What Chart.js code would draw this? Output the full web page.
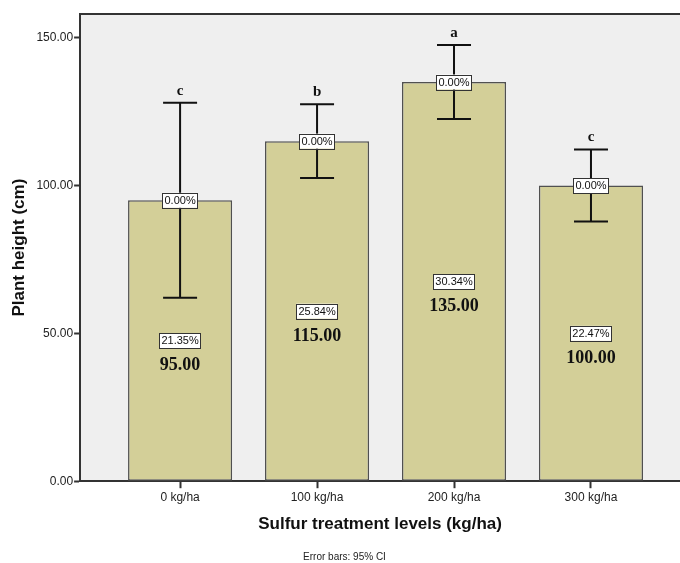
<!DOCTYPE html>
<html>
<head>
<meta charset="utf-8">
<script src="https://cdn.jsdelivr.net/npm/chart.js@4"></script>
<style>
  html, body { margin: 0; padding: 0; background: #fff; }
  #wrap { width: 680px; height: 563px; position: relative; }
</style>
</head>
<body>
<div id="wrap"><canvas id="grafica"></canvas></div>
<script>
'use strict';

// ── Datos ──────────────────────────────────
const categorias = ['0 kg/ha', '100 kg/ha', '200 kg/ha', '300 kg/ha'];
const medias = [95, 115, 135, 100];
const icInferior = [62, 102.5, 122.5, 87.8];
const icSuperior = [128, 127.5, 147.5, 112.2];
const letras = ['c', 'b', 'a', 'c'];
const porcentajes = ['21.35%', '25.84%', '30.34%', '22.47%'];
const porcentajeTope = ['0.00%', '0.00%', '0.00%', '0.00%'];
const ticksY = [0, 50, 100, 150];

const COLOR_BARRA = '#D3CF98';
const COLOR_FONDO = '#EFEFEF';
const COLOR_EJE = '#333333';

// Fondo gris del área y borde superior
const fondoPlugin = {
    id: 'fondo',
    beforeDraw(chart) {
        const { ctx, chartArea: a } = chart;
        ctx.save();
        ctx.fillStyle = COLOR_FONDO;
        ctx.fillRect(a.left, a.top, a.right - a.left, a.bottom - a.top);
        ctx.restore();
    },
    afterDraw(chart) {
        const { ctx, chartArea: a } = chart;
        ctx.save();
        ctx.strokeStyle = COLOR_EJE;
        ctx.lineWidth = 2;
        ctx.beginPath();
        ctx.moveTo(a.left, a.top);
        ctx.lineTo(a.right, a.top);
        ctx.stroke();
        ctx.restore();
    }
};

function cajaTexto(ctx, texto, x, y) {
    ctx.font = '11px "Liberation Sans", Arial, sans-serif';
    const w = ctx.measureText(texto).width + 4;
    const h = 15;
    ctx.fillStyle = '#ffffff';
    ctx.fillRect(x - w / 2, y - h / 2, w, h);
    ctx.strokeStyle = '#333';
    ctx.lineWidth = 1;
    ctx.strokeRect(Math.round(x - w / 2) + 0.5, Math.round(y - h / 2) + 0.5, Math.round(w), h);
    ctx.fillStyle = '#111';
    ctx.textAlign = 'center';
    ctx.textBaseline = 'middle';
    ctx.fillText(texto, x, y + 0.5);
}

// Barras de error, letras y etiquetas
const etiquetasPlugin = {
    id: 'etiquetas',
    afterDatasetsDraw(chart) {
        const { ctx, scales: { x, y } } = chart;
        ctx.save();
        medias.forEach((m, i) => {
            const px = x.getPixelForValue(i);
            const yTop = y.getPixelForValue(icSuperior[i]);
            const yBot = y.getPixelForValue(icInferior[i]);
            const cap = 17;

            ctx.strokeStyle = '#111';
            ctx.lineWidth = 2;
            ctx.beginPath();
            ctx.moveTo(px, yTop); ctx.lineTo(px, yBot);
            ctx.moveTo(px - cap, yTop); ctx.lineTo(px + cap, yTop);
            ctx.moveTo(px - cap, yBot); ctx.lineTo(px + cap, yBot);
            ctx.stroke();

            // letra de significancia
            ctx.fillStyle = '#111';
            ctx.font = 'bold 15px "Liberation Serif", "Times New Roman", serif';
            ctx.textAlign = 'center';
            ctx.textBaseline = 'alphabetic';
            ctx.fillText(letras[i], px, yTop - 8);

            // 0.00% en el tope de la barra
            cajaTexto(ctx, porcentajeTope[i], px, y.getPixelForValue(m));

            // porcentaje a media barra
            const yMid = y.getPixelForValue(m / 2);
            cajaTexto(ctx, porcentajes[i], px, yMid);

            ctx.fillStyle = '#111';
            ctx.font = 'bold 18px "Liberation Serif", "Times New Roman", serif';
            ctx.textAlign = 'center';
            ctx.textBaseline = 'middle';
            ctx.fillText(m.toFixed(2), px, yMid + 25);
        });
        ctx.restore();
    }
};

new Chart(document.getElementById('grafica').getContext('2d'), {
    type: 'bar',
    data: {
        datasets: [{
            data: medias.map((v, i) => ({ x: i, y: v })),
            backgroundColor: COLOR_BARRA,
            borderColor: '#505050',
            borderWidth: 1.5,
            borderSkipped: false,
            barPercentage: 0.76,
            categoryPercentage: 1
        }]
    },
    options: {
        responsive: true,
        maintainAspectRatio: false,
        animation: false,
        layout: { padding: { top: 14, right: 0, left: 9, bottom: 0 } },
        plugins: {
            legend: { display: false },
            tooltip: { enabled: false },
            title: {
                display: true,
                position: 'bottom',
                text: 'Error bars: 95% CI',
                color: '#222',
                font: { family: '"Liberation Sans", Arial, sans-serif', size: 10, weight: 'normal' },
                padding: { top: 16, bottom: 0 }
            }
        },
        scales: {
            x: {
                type: 'linear',
                offset: false,
                min: -0.73,
                max: 3.65,
                afterBuildTicks: axis => { axis.ticks = categorias.map((c, i) => ({ value: i })); },
                ticks: {
                    callback: v => categorias[v] ?? '',
                    color: '#222',
                    font: { family: '"Liberation Sans", Arial, sans-serif', size: 12 },
                    padding: 2,
                    maxRotation: 0
                },
                grid: { offset: false, drawOnChartArea: false, drawTicks: true, tickLength: 7, color: COLOR_EJE, tickWidth: 2 },
                border: { display: true, color: COLOR_EJE, width: 2 },
                title: {
                    display: true,
                    text: 'Sulfur treatment levels (kg/ha)',
                    color: '#111',
                    font: { family: '"Liberation Sans", Arial, sans-serif', size: 17, weight: 'bold' },
                    padding: { top: 8, bottom: 0 }
                }
            },
            y: {
                min: 0,
                max: 158,
                afterBuildTicks: axis => { axis.ticks = ticksY.map(v => ({ value: v })); },
                ticks: {
                    callback: v => v.toFixed(2),
                    color: '#222',
                    font: { family: '"Liberation Sans", Arial, sans-serif', size: 12 },
                    padding: 1
                },
                grid: { drawOnChartArea: false, drawTicks: true, tickLength: 6, color: COLOR_EJE, tickWidth: 2 },
                border: { display: true, color: COLOR_EJE, width: 2 },
                title: {
                    display: true,
                    text: 'Plant height (cm)',
                    color: '#111',
                    font: { family: '"Liberation Sans", Arial, sans-serif', size: 17, weight: 'bold' },
                    padding: { top: 0, bottom: 6 }
                }
            }
        }
    },
    plugins: [fondoPlugin, etiquetasPlugin]
});
</script>
</body>
</html>
